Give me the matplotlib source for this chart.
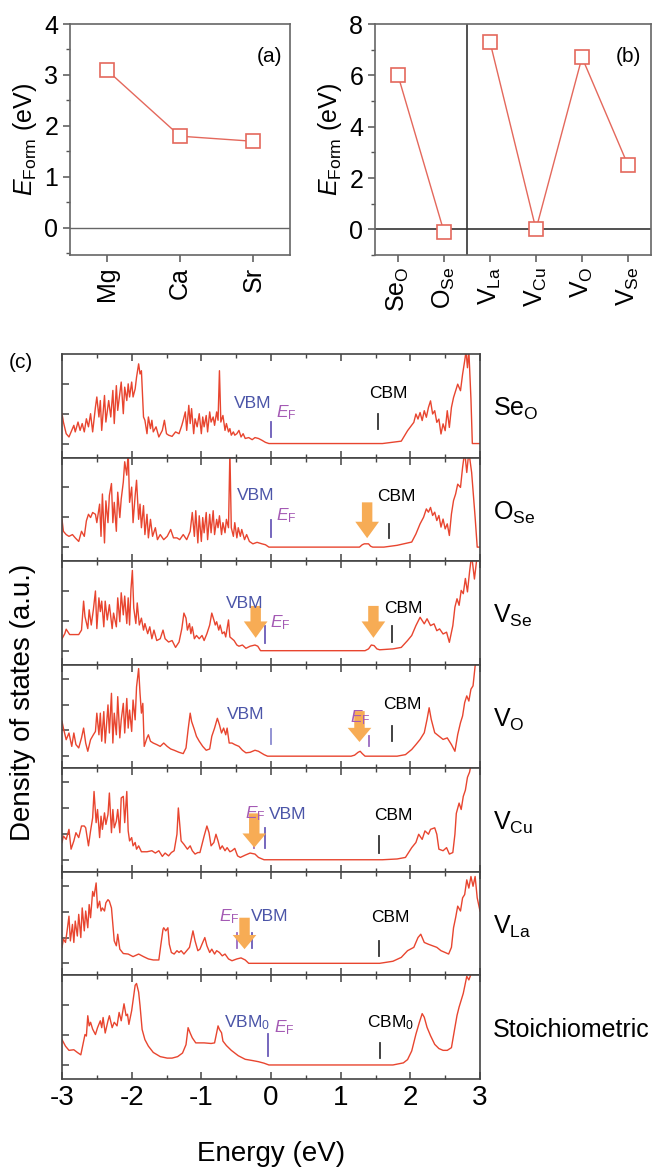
import numpy as np
import matplotlib.pyplot as plt
from matplotlib.patches import FancyArrow
from matplotlib.ticker import MultipleLocator

plt.rcParams['font.family'] = 'Liberation Sans'
plt.rcParams['mathtext.fontset'] = 'custom'
plt.rcParams['mathtext.rm'] = 'Liberation Sans'
plt.rcParams['mathtext.it'] = 'Liberation Sans:italic'
plt.rcParams['axes.unicode_minus'] = False

# ---- (a) dopant formation energies
dopants = ['Mg', 'Ca', 'Sr']
dopant_ef = [3.1, 1.8, 1.7]

# ---- (b) intrinsic defect formation energies
defects = [r'Se$_{\rm O}$', r'O$_{\rm Se}$', r'V$_{\rm La}$', r'V$_{\rm Cu}$', r'V$_{\rm O}$', r'V$_{\rm Se}$']
defect_ef = [6.0, -0.1, 7.3, 0.0, 6.7, 2.5]

# ---- (c) density of states, energy (eV) / DOS (a.u.)
seo_e = [-3.00, -2.98, -2.94, -2.90, -2.86, -2.83, -2.81, -2.77, -2.74, -2.71, -2.68, -2.65, -2.62, -2.59, -2.56,
         -2.52, -2.50, -2.47, -2.45, -2.43, -2.39, -2.37, -2.33, -2.30, -2.27, -2.25, -2.22, -2.20, -2.17, -2.15,
         -2.12, -2.10, -2.07, -2.05, -2.03, -2.00, -1.98, -1.95, -1.93, -1.90, -1.88, -1.86, -1.83, -1.81, -1.78,
         -1.76, -1.73, -1.71, -1.69, -1.65, -1.61, -1.56, -1.53, -1.50, -1.47, -1.42, -1.37, -1.32, -1.28, -1.26,
         -1.23, -1.21, -1.18, -1.16, -1.14, -1.11, -1.09, -1.06, -1.03, -1.00, -0.98, -0.96, -0.93, -0.91, -0.88,
         -0.86, -0.83, -0.81, -0.78, -0.76, -0.74, -0.72, -0.69, -0.66, -0.64, -0.61, -0.59, -0.57, -0.54, -0.52,
         -0.49, -0.46, -0.43, -0.40, -0.37, -0.32, -0.27, -0.23, -0.18, -0.13, -0.08, -0.03,
         1.60, 1.87, 1.96, 2.05, 2.08, 2.11, 2.14, 2.17, 2.20, 2.23, 2.26, 2.29, 2.32, 2.35, 2.38, 2.41, 2.44,
         2.47, 2.50, 2.53, 2.56, 2.59, 2.62, 2.65, 2.68, 2.72, 2.75, 2.78, 2.80, 2.82, 2.84, 2.87, 2.89, 3.00]
seo_d = [1.00, 0.72, 0.33, 0.22, 0.44, 0.61, 0.39, 0.72, 0.44, 0.67, 0.39, 0.83, 0.56, 1.00, 0.39,
         1.22, 1.56, 0.89, 1.44, 0.44, 1.61, 0.72, 1.44, 0.89, 1.78, 0.67, 1.94, 1.11, 1.67, 2.06,
         1.00, 1.89, 1.44, 2.00, 1.56, 2.06, 1.56, 1.83, 2.22, 2.67, 2.33, 2.44, 0.89, 0.78, 0.33,
         0.89, 0.50, 0.78, 0.39, 0.56, 0.22, 0.44, 0.78, 0.33, 0.28, 0.24, 0.39, 0.33, 0.61, 0.78,
         1.06, 0.44, 1.28, 0.67, 1.17, 0.33, 0.83, 0.56, 1.00, 0.33, 0.89, 0.56, 0.94, 0.39, 1.06,
         0.72, 0.89, 0.61, 1.06, 0.78, 2.44, 0.72, 0.94, 0.44, 0.67, 0.39, 0.50, 0.28, 0.39, 0.28,
         0.33, 0.44, 0.22, 0.33, 0.17, 0.20, 0.13, 0.20, 0.17, 0.11, 0.04, 0.00,
         0.00, 0.08, 0.43, 0.71, 0.99, 0.82, 1.04, 0.77, 1.10, 0.88, 1.21, 1.43, 0.99, 1.10, 0.71, 0.82, 0.32,
         0.66, 0.43, 1.10, 0.54, 1.21, 1.54, 1.77, 1.99, 1.77, 2.32, 2.77, 3.10, 2.54, 3.10, 1.50, 0.00, 0.00]

ose_e = [-3.00, -2.98, -2.94, -2.90, -2.85, -2.81, -2.76, -2.72, -2.68, -2.65, -2.62, -2.59, -2.56, -2.52, -2.50,
         -2.46, -2.44, -2.42, -2.39, -2.37, -2.34, -2.32, -2.29, -2.27, -2.25, -2.22, -2.20, -2.17, -2.15, -2.12,
         -2.10, -2.07, -2.05, -2.03, -2.00, -1.98, -1.95, -1.93, -1.90, -1.88, -1.86, -1.83, -1.81, -1.78, -1.76,
         -1.73, -1.70, -1.66, -1.63, -1.59, -1.54, -1.49, -1.44, -1.40, -1.35, -1.31, -1.26, -1.21, -1.16, -1.13,
         -1.10, -1.08, -1.05, -1.03, -1.00, -0.98, -0.96, -0.93, -0.91, -0.88, -0.86, -0.83, -0.81, -0.78, -0.76,
         -0.74, -0.71, -0.69, -0.66, -0.64, -0.61, -0.59, -0.57, -0.54, -0.52, -0.49, -0.47, -0.44, -0.42, -0.38,
         -0.35, -0.31, -0.26, -0.20, -0.13, -0.08, -0.03,
         1.27, 1.31, 1.34, 1.40, 1.43, 1.46, 1.62, 1.81, 2.02, 2.08, 2.14, 2.19, 2.23, 2.26, 2.29, 2.32, 2.35,
         2.38, 2.41, 2.44, 2.47, 2.50, 2.53, 2.56, 2.59, 2.62, 2.65, 2.68, 2.72, 2.75, 2.78, 2.81, 2.84, 2.88,
         2.93, 2.96, 3.00]
ose_d = [0.93, 0.53, 0.42, 0.36, 0.42, 0.31, 0.19, 0.53, 0.36, 0.88, 1.10, 0.99, 1.16, 1.10, 0.82,
         1.44, 0.36, 1.78, 0.14, 1.55, 0.82, 1.73, 2.13, 0.82, 1.50, 0.53, 1.84, 0.99, 1.61, 2.18,
         2.86, 2.41, 3.20, 1.50, 2.01, 0.82, 1.73, 2.24, 0.93, 1.44, 0.65, 1.39, 0.42, 1.10, 0.31,
         0.93, 0.36, 0.65, 0.25, 0.42, 0.25, 0.36, 0.59, 0.31, 0.31, 0.25, 0.42, 0.25, 0.53, 1.16,
         0.36, 1.22, 0.14, 1.05, 0.19, 0.99, 0.48, 1.16, 0.25, 1.10, 0.48, 1.22, 0.42, 0.93, 0.65,
         1.05, 0.42, 0.82, 0.48, 0.93, 0.65, 3.20, 0.65, 0.36, 0.82, 0.31, 0.65, 0.36, 0.59, 0.25,
         0.42, 0.19, 0.11, 0.16, 0.11, 0.08, 0.00,
         0.00, 0.08, 0.11, 0.11, 0.03, 0.00, 0.00, 0.06, 0.17, 0.44, 0.78, 1.00, 1.28, 1.17, 1.33, 1.06, 1.17,
         0.89, 1.06, 0.67, 0.94, 0.61, 0.78, 0.39, 1.11, 1.56, 1.78, 2.11, 2.00, 2.67, 3.20, 2.50, 3.20, 2.50,
         1.00, 0.00, 0.00]

vse_e = [-3.00, -2.96, -2.94, -2.89, -2.83, -2.76, -2.72, -2.69, -2.67, -2.63, -2.61, -2.58, -2.55, -2.52, -2.50,
         -2.47, -2.45, -2.43, -2.40, -2.38, -2.35, -2.32, -2.28, -2.26, -2.22, -2.20, -2.17, -2.15, -2.12, -2.10,
         -2.07, -2.05, -2.03, -2.01, -1.99, -1.97, -1.94, -1.92, -1.89, -1.86, -1.83, -1.81, -1.77, -1.74, -1.71,
         -1.68, -1.64, -1.59, -1.55, -1.52, -1.47, -1.42, -1.37, -1.32, -1.28, -1.25, -1.22, -1.20, -1.17, -1.15,
         -1.13, -1.10, -1.07, -1.03, -0.99, -0.96, -0.92, -0.88, -0.85, -0.82, -0.80, -0.78, -0.75, -0.73, -0.70,
         -0.67, -0.65, -0.61, -0.59, -0.56, -0.53, -0.49, -0.46, -0.41, -0.36, -0.30, -0.23, -0.19, -0.15,
         1.35, 1.40, 1.44, 1.48, 1.52, 1.56, 1.75, 1.87, 1.96, 2.02, 2.08, 2.14, 2.20, 2.24, 2.29, 2.34, 2.38,
         2.42, 2.47, 2.52, 2.56, 2.61, 2.64, 2.67, 2.70, 2.73, 2.76, 2.79, 2.82, 2.85, 2.88, 2.92, 2.96, 3.00]
vse_d = [0.40, 0.57, 0.72, 0.54, 0.54, 0.54, 0.69, 1.66, 1.14, 0.74, 1.37, 0.86, 1.37, 2.00, 0.74,
         1.77, 1.31, 1.66, 0.80, 1.66, 1.03, 1.54, 0.74, 1.26, 0.80, 1.77, 0.97, 1.94, 1.20, 1.83,
         0.91, 1.77, 0.86, 2.06, 2.69, 1.43, 0.91, 1.60, 0.86, 1.09, 0.69, 0.91, 0.57, 0.80, 0.40,
         0.69, 0.34, 0.40, 0.69, 0.40, 0.29, 0.34, 0.11, 0.29, 0.74, 1.26, 1.09, 0.69, 0.91, 0.57,
         0.80, 0.40, 0.51, 0.40, 0.51, 0.34, 0.57, 0.86, 1.26, 1.03, 0.86, 0.97, 0.69, 0.86, 0.57,
         0.63, 0.46, 1.03, 0.46, 0.40, 0.34, 0.19, 0.15, 0.19, 0.08, 0.15, 0.19, 0.15, 0.00,
         0.00, 0.06, 0.19, 0.17, 0.06, 0.03, 0.06, 0.11, 0.34, 0.51, 0.84, 1.12, 0.90, 1.07, 0.84, 0.90, 0.67,
         0.73, 0.56, 0.62, 0.28, 0.84, 1.46, 1.74, 1.52, 2.02, 1.91, 2.42, 1.97, 2.64, 3.20, 2.40, 3.20, 3.20]

vo_e = [-3.00, -2.98, -2.94, -2.90, -2.86, -2.83, -2.80, -2.76, -2.72, -2.69, -2.66, -2.63, -2.59, -2.55, -2.52,
        -2.50, -2.47, -2.45, -2.43, -2.40, -2.38, -2.34, -2.32, -2.29, -2.27, -2.25, -2.22, -2.20, -2.17, -2.15,
        -2.12, -2.10, -2.07, -2.05, -2.03, -2.00, -1.98, -1.95, -1.93, -1.90, -1.88, -1.86, -1.84, -1.82, -1.78,
        -1.76, -1.73, -1.69, -1.64, -1.59, -1.54, -1.49, -1.44, -1.39, -1.32, -1.26, -1.22, -1.19, -1.16, -1.14,
        -1.10, -1.07, -1.03, -0.98, -0.93, -0.88, -0.85, -0.81, -0.77, -0.74, -0.71, -0.68, -0.65, -0.63, -0.60,
        -0.56, -0.52, -0.46, -0.41, -0.36, -0.30, -0.23, -0.18, -0.10, -0.05,
        1.15, 1.20, 1.25, 1.28, 1.31, 1.35, 1.81, 1.93, 2.02, 2.08, 2.14, 2.20, 2.24, 2.27, 2.30, 2.35, 2.41,
        2.47, 2.53, 2.59, 2.64, 2.68, 2.72, 2.75, 2.78, 2.81, 2.84, 2.87, 2.90, 2.93, 2.97, 3.00]
vo_d = [1.35, 1.09, 0.64, 0.90, 0.38, 0.90, 0.45, 0.32, 0.71, 1.09, 0.51, 0.19, 0.64, 0.83, 0.96,
        1.67, 0.83, 1.67, 0.58, 1.73, 0.51, 1.99, 0.90, 2.44, 0.51, 1.67, 0.83, 2.31, 0.71, 1.41,
        2.05, 0.90, 2.24, 1.09, 1.79, 0.96, 2.18, 1.41, 2.69, 3.40, 2.44, 1.67, 2.05, 0.38, 0.71,
        0.83, 0.58, 0.51, 0.45, 0.38, 0.51, 0.38, 0.28, 0.23, 0.15, 0.10, 0.32, 1.03, 1.67, 1.35,
        1.03, 0.77, 0.58, 0.38, 0.23, 0.28, 0.77, 1.09, 1.47, 1.22, 0.90, 1.09, 0.83, 1.09, 0.51,
        0.51, 0.45, 0.38, 0.23, 0.13, 0.15, 0.23, 0.19, 0.06, 0.00,
        0.00, 0.04, 0.15, 0.19, 0.10, 0.00, 0.00, 0.06, 0.26, 0.45, 0.65, 0.91, 1.43, 1.88, 1.43, 0.91, 0.78,
        0.65, 0.71, 0.45, 0.19, 0.84, 1.30, 1.56, 2.08, 2.34, 2.14, 2.60, 2.73, 3.50, 4.00, 4.00]

vcu_e = [-3.00, -2.98, -2.94, -2.90, -2.87, -2.83, -2.80, -2.76, -2.72, -2.68, -2.66, -2.62, -2.59, -2.56, -2.54,
         -2.51, -2.49, -2.46, -2.44, -2.42, -2.39, -2.37, -2.34, -2.32, -2.29, -2.27, -2.25, -2.22, -2.20, -2.17,
         -2.15, -2.12, -2.10, -2.07, -2.05, -2.03, -2.00, -1.98, -1.95, -1.93, -1.90, -1.86, -1.78, -1.71, -1.66,
         -1.61, -1.56, -1.52, -1.47, -1.43, -1.39, -1.35, -1.33, -1.31, -1.29, -1.25, -1.20, -1.16, -1.13, -1.09,
         -1.05, -1.02, -0.99, -0.96, -0.92, -0.89, -0.86, -0.82, -0.79, -0.76, -0.73, -0.70, -0.66, -0.63, -0.59,
         -0.56, -0.52, -0.48, -0.44, -0.37, -0.30, -0.23, -0.18, -0.10,
         1.60, 1.81, 1.93, 2.02, 2.08, 2.12, 2.17, 2.21, 2.26, 2.29, 2.35, 2.38, 2.41, 2.47, 2.52, 2.56, 2.61,
         2.64, 2.66, 2.70, 2.73, 2.76, 2.79, 2.82, 2.85, 2.88, 3.00]
vcu_d = [0.67, 0.92, 0.79, 1.18, 0.41, 0.73, 1.05, 0.86, 1.31, 1.31, 1.24, 0.54, 1.12, 1.63, 2.65,
         1.44, 1.95, 0.86, 1.69, 1.18, 1.82, 1.37, 1.76, 2.59, 1.05, 1.95, 1.24, 1.50, 1.95, 1.05,
         2.40, 2.46, 1.44, 2.65, 1.12, 0.73, 0.86, 0.54, 0.67, 0.41, 0.54, 0.31, 0.31, 0.35, 0.26,
         0.35, 0.13, 0.26, 0.15, 0.28, 0.35, 0.99, 2.01, 1.37, 0.73, 0.60, 0.41, 0.54, 0.35, 0.22,
         0.28, 0.28, 0.60, 0.92, 1.31, 1.05, 0.54, 0.67, 0.99, 0.73, 0.41, 0.54, 0.35, 0.47, 0.31,
         0.35, 0.44, 0.15, 0.09, 0.18, 0.26, 0.22, 0.09, 0.00,
         0.00, 0.03, 0.09, 0.47, 0.67, 0.99, 0.79, 1.12, 0.99, 1.18, 1.24, 0.99, 0.41, 0.35, 0.47, 0.22, 0.28,
         0.99, 1.80, 2.20, 1.95, 2.46, 2.70, 3.20, 3.40, 3.80, 4.00]

vla_e = [-3.00, -2.98, -2.95, -2.93, -2.90, -2.88, -2.85, -2.83, -2.81, -2.78, -2.76, -2.73, -2.71, -2.68, -2.66,
         -2.63, -2.61, -2.59, -2.56, -2.54, -2.51, -2.49, -2.46, -2.44, -2.42, -2.39, -2.37, -2.34, -2.32, -2.29,
         -2.27, -2.25, -2.22, -2.20, -2.17, -2.12, -2.05, -1.98, -1.90, -1.83, -1.76, -1.69, -1.61, -1.58, -1.55,
         -1.54, -1.51, -1.48, -1.46, -1.43, -1.39, -1.35, -1.32, -1.29, -1.25, -1.21, -1.17, -1.15, -1.12, -1.09,
         -1.05, -1.02, -0.98, -0.95, -0.92, -0.88, -0.85, -0.81, -0.78, -0.74, -0.70, -0.66, -0.61, -0.56, -0.49,
         -0.43, -0.37, -0.32,
         1.56, 1.75, 1.87, 1.96, 2.05, 2.11, 2.15, 2.20, 2.26, 2.32, 2.38, 2.44, 2.50, 2.55, 2.59, 2.62, 2.65,
         2.68, 2.72, 2.75, 2.78, 2.81, 2.84, 2.87, 2.90, 2.93, 2.96, 3.00]
vla_d = [0.62, 0.94, 0.81, 1.19, 1.83, 0.87, 1.51, 0.81, 1.64, 1.06, 1.90, 1.00, 2.15, 1.26, 2.03,
         1.38, 2.28, 1.77, 2.79, 2.60, 3.12, 2.15, 2.41, 2.03, 2.15, 2.03, 2.35, 2.47, 2.41, 2.15,
         1.51, 0.87, 0.68, 1.13, 0.55, 0.38, 0.36, 0.26, 0.36, 0.26, 0.17, 0.13, 0.13, 0.74, 1.32,
         1.38, 1.26, 1.38, 0.74, 0.42, 0.36, 0.49, 0.42, 0.49, 0.36, 0.49, 0.62, 0.87, 1.26, 0.87,
         0.49, 0.55, 0.81, 1.00, 0.68, 0.42, 0.55, 0.36, 0.49, 0.42, 0.29, 0.36, 0.17, 0.10, 0.17,
         0.21, 0.13, 0.00,
         0.00, 0.08, 0.23, 0.49, 0.62, 1.00, 1.13, 0.81, 0.74, 0.68, 0.62, 0.49, 0.42, 0.36, 0.62, 1.38, 1.77,
         2.22, 2.03, 2.54, 2.67, 3.24, 2.92, 3.37, 2.99, 3.37, 2.54, 2.03]

sto_e = [-3.00, -2.95, -2.90, -2.83, -2.78, -2.73, -2.70, -2.67, -2.65, -2.63, -2.61, -2.59, -2.56, -2.52, -2.49,
         -2.45, -2.43, -2.41, -2.38, -2.34, -2.32, -2.28, -2.25, -2.21, -2.18, -2.15, -2.11, -2.08, -2.06, -2.04,
         -2.00, -1.97, -1.95, -1.93, -1.90, -1.88, -1.85, -1.81, -1.76, -1.69, -1.59, -1.49, -1.42, -1.34, -1.27,
         -1.22, -1.19, -1.16, -1.13, -1.08, -0.96, -0.86, -0.81, -0.78, -0.76, -0.74, -0.71, -0.69, -0.64, -0.57,
         -0.47, -0.37, -0.27, -0.18, -0.10, -0.03,
         1.75, 1.90, 1.96, 2.02, 2.08, 2.13, 2.17, 2.20, 2.24, 2.29, 2.35, 2.41, 2.47, 2.53, 2.59, 2.64, 2.67,
         2.70, 2.73, 2.76, 2.79, 2.81, 2.84, 2.88, 2.93, 3.00]
sto_d = [0.85, 0.63, 0.49, 0.51, 0.42, 0.34, 0.68, 1.02, 0.97, 1.65, 1.31, 1.43, 1.20, 1.02, 1.25,
         1.48, 1.25, 1.59, 1.07, 1.48, 1.65, 1.25, 1.43, 1.31, 1.76, 1.48, 2.05, 1.65, 1.70, 1.36,
         1.82, 2.33, 2.67, 2.73, 2.44, 1.99, 1.19, 0.85, 0.63, 0.42, 0.28, 0.23, 0.23, 0.28, 0.40,
         0.68, 1.25, 1.07, 0.91, 0.74, 0.74, 0.72, 0.74, 1.08, 1.31, 1.19, 1.08, 0.80, 0.65, 0.49,
         0.31, 0.19, 0.15, 0.11, 0.06, 0.00,
         0.00, 0.07, 0.18, 0.47, 1.03, 1.43, 1.72, 1.60, 1.26, 0.98, 0.69, 0.55, 0.49, 0.49, 0.58, 1.26, 1.66,
         1.94, 2.17, 2.40, 2.74, 2.97, 2.85, 3.10, 3.20, 3.20]

dos_names = [r'Se$_{\rm O}$', r'O$_{\rm Se}$', r'V$_{\rm Se}$', r'V$_{\rm O}$',
             r'V$_{\rm Cu}$', r'V$_{\rm La}$', 'Stoichiometric']

# colours
red = '#e8452f'
salmon = '#e4685c'
orange = '#f7ac55'
blue = '#4b55a8'
purple = '#a45ab4'
spine = '#444444'

fig = plt.figure(figsize=(6.52, 11.70), dpi=100)

# ---------- (a)
ax_a = fig.add_axes([70/652, 1-255/1170, 220/652, 231/1170])
xa = np.arange(len(dopants))
ax_a.plot(xa, dopant_ef, '-s', color=salmon, lw=1.0, ms=10, mfc='white', mec=salmon, mew=1.2, zorder=3)
ax_a.axhline(0, color='#666666', lw=1.0)
ax_a.set_xlim(-0.5, 2.5)
ax_a.set_ylim(-0.53, 4.0)
ax_a.set_xticks(xa)
ax_a.set_xticklabels(dopants, rotation=90)
ax_a.yaxis.set_major_locator(MultipleLocator(1))
ax_a.yaxis.set_minor_locator(MultipleLocator(0.5))
ax_a.set_ylabel(r'$E_{\rm Form}$ (eV)', fontsize=18, labelpad=4)
ax_a.text(0.965, 0.86, '(a)', transform=ax_a.transAxes, ha='right', va='center', fontsize=15)

# ---------- (b)
ax_b = fig.add_axes([375/652, 1-255/1170, 276/652, 231/1170])
xb = np.arange(len(defects))
ax_b.plot(xb[:2], defect_ef[:2], '-s', color=salmon, lw=1.0, ms=10, mfc='white', mec=salmon, mew=1.2, zorder=3)
ax_b.plot(xb[2:], defect_ef[2:], '-s', color=salmon, lw=1.0, ms=10, mfc='white', mec=salmon, mew=1.2, zorder=3)
ax_b.axhline(0, color='#333333', lw=1.2)
ax_b.axvline(1.5, color='#333333', lw=1.2)
ax_b.set_xlim(-0.5, 5.5)
ax_b.set_ylim(-1.0, 8.0)
ax_b.set_xticks(xb)
ax_b.set_xticklabels(defects, rotation=90)
ax_b.yaxis.set_major_locator(MultipleLocator(2))
ax_b.yaxis.set_minor_locator(MultipleLocator(1))
ax_b.set_ylabel(r'$E_{\rm Form}$ (eV)', fontsize=18, labelpad=4)
ax_b.text(0.965, 0.86, '(b)', transform=ax_b.transAxes, ha='right', va='center', fontsize=15)

for ax in (ax_a, ax_b):
    for s in ax.spines.values():
        s.set_color('#666666')
        s.set_linewidth(1.2)
    ax.tick_params(which='both', direction='out', top=False, right=False, labelsize=18, color='#555555')
    ax.tick_params(which='major', length=5, width=1.1)
    ax.tick_params(which='minor', length=3, width=1.0)
    ax.tick_params(axis='x', which='minor', bottom=False)

# ---------- (c)
gs = fig.add_gridspec(7, 1, left=62/652, right=480/652, top=1-354/1170, bottom=1-1079/1170, hspace=0)
dos_e = [seo_e, ose_e, vse_e, vo_e, vcu_e, vla_e, sto_e]
dos_d = [seo_d, ose_d, vse_d, vo_d, vcu_d, vla_d, sto_d]
axs = []
for i in range(7):
    ax = fig.add_subplot(gs[i])
    axs.append(ax)
    ax.plot(dos_e[i], dos_d[i], color=red, lw=1.0, zorder=2)
    ax.set_xlim(-3, 3)
    if i in (3, 4, 5):
        ax.set_ylim(-0.47, 3.55)
        ax.set_yticks([0, 1, 2, 3])
    else:
        ax.set_ylim(-0.47, 3.0)
        ax.set_yticks([0, 1, 2])
    ax.xaxis.set_major_locator(MultipleLocator(1))
    ax.xaxis.set_minor_locator(MultipleLocator(0.5))
    ax.tick_params(which='both', direction='in', top=True, bottom=True, left=True, right=False,
                   labelleft=False, color=spine)
    ax.tick_params(which='major', length=5, width=1.1)
    ax.tick_params(which='minor', length=3, width=1.0)
    ax.tick_params(axis='y', which='minor', left=False)
    if i < 6:
        ax.tick_params(labelbottom=False)
    else:
        ax.tick_params(labelsize=20, pad=4)
    for s in ax.spines.values():
        s.set_color(spine)
        s.set_linewidth(1.2)
    ax.text(1.03, 0.47, dos_names[i], transform=ax.transAxes, ha='left', va='center', fontsize=18)


def tick(ax, x, y0, y1, c):
    ax.plot([x, x], [y0, y1], color=c, lw=1.3, zorder=3)


def arrow(ax, x, top, tip):
    ax.add_patch(FancyArrow(x, top, 0, tip - top, width=0.15, head_width=0.34, head_length=0.55,
                            length_includes_head=True, color=orange, lw=0, zorder=4))


def lab(ax, x, y, s, c, ha='center'):
    ax.text(x, y, s, color=c, fontsize=12.5, ha=ha, va='center', zorder=5)


ef = r'$E_{\rm F}$'

ax = axs[0]
lab(ax, -0.27, 1.33, 'VBM', blue)
lab(ax, 0.07, 1.05, ef, purple, 'left')
lab(ax, 1.69, 1.67, 'CBM', 'black')
tick(ax, 0.0, 0.22, 0.72, '#6a5ab8')
tick(ax, 1.53, 0.5, 1.0, '#333333')

ax = axs[1]
lab(ax, -0.22, 1.73, 'VBM', blue)
lab(ax, 0.07, 1.07, ef, purple, 'left')
lab(ax, 1.80, 1.70, 'CBM', 'black')
tick(ax, 0.0, 0.33, 0.9, '#6a5ab8')
tick(ax, 1.69, 0.3, 0.77, '#333333')
arrow(ax, 1.38, 1.5, 0.3)

ax = axs[2]
lab(ax, -0.38, 1.57, 'VBM', blue)
lab(ax, -0.02, 0.93, ef, purple, 'left')
lab(ax, 1.90, 1.40, 'CBM', 'black')
tick(ax, -0.09, 0.27, 0.83, '#6a5ab8')
tick(ax, 1.73, 0.28, 0.83, '#333333')
arrow(ax, -0.22, 1.5, 0.43)
arrow(ax, 1.47, 1.5, 0.43)

ax = axs[3]
lab(ax, -0.36, 1.63, 'VBM', blue)
tick(ax, 0.0, 0.47, 1.05, '#8a8ad0')
arrow(ax, 1.27, 1.75, 0.55)
lab(ax, 1.13, 1.48, ef, purple, 'left')
tick(ax, 1.40, 0.4, 0.78, '#9a6ac0')
lab(ax, 1.89, 2.00, 'CBM', 'black')
tick(ax, 1.73, 0.58, 1.17, '#333333')

ax = axs[4]
arrow(ax, -0.24, 1.8, 0.47)
lab(ax, -0.38, 1.77, ef, purple, 'left')
lab(ax, 0.24, 1.77, 'VBM', blue)
tick(ax, -0.09, 0.46, 1.23, '#6a5ab8')
tick(ax, -0.25, 0.46, 1.23, '#9a6ac0')
lab(ax, 1.75, 1.70, 'CBM', 'black')
tick(ax, 1.55, 0.27, 0.92, '#333333')

ax = axs[5]
tick(ax, -0.49, 0.6, 1.18, '#9a6ac0')
tick(ax, -0.27, 0.6, 1.18, '#6a5ab8')
arrow(ax, -0.38, 1.77, 0.55)
lab(ax, -0.75, 1.83, ef, purple, 'left')
lab(ax, -0.02, 1.83, 'VBM', blue)
lab(ax, 1.71, 1.77, 'CBM', 'black')
tick(ax, 1.55, 0.3, 0.87, '#333333')

ax = axs[6]
lab(ax, -0.67, 1.42, r'VBM$_{\rm 0}$', blue, 'left')
lab(ax, 0.05, 1.25, ef, purple, 'left')
tick(ax, -0.04, 0.3, 1.05, '#6a5ab8')
lab(ax, 1.71, 1.42, r'CBM$_{\rm 0}$', 'black')
tick(ax, 1.56, 0.22, 0.73, '#333333')

fig.text(0.035, 0.40, 'Density of states (a.u.)', rotation=90, ha='center', va='center', fontsize=20)
fig.text(0.416, 0.014, 'Energy (eV)', ha='center', va='center', fontsize=20)
fig.text(0.014, 0.69, '(c)', ha='left', va='center', fontsize=15)

fig.savefig('out.png', dpi=100)
